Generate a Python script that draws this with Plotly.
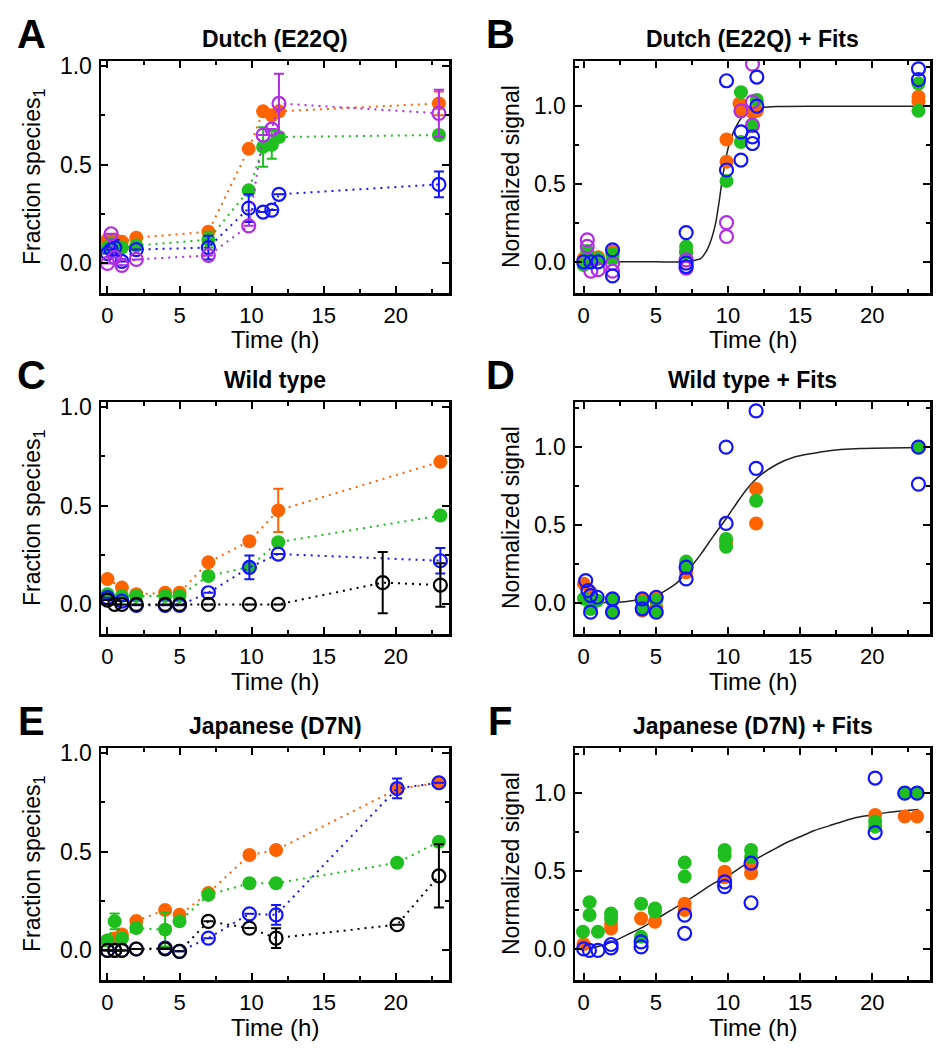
import plotly.graph_objects as go

ORANGE = '#ff6400'
GREEN = '#1fbf1f'
BLUE = '#1414ff'
PURPLE = '#b02ee6'
BLACK = '#000000'

# ---------------- Panel A: Dutch (E22Q) ----------------
tA = [0, 0.25, 0.5, 1, 2, 7, 9.8, 10.8, 11.4, 11.9, 23]
A_orange = [0.12, 0.11, 0.12, 0.11, 0.13, 0.16, 0.58, 0.77, 0.75, 0.77, 0.81]
A_orange_err = [None, None, None, None, None, None, None, None, None, None, 0.06]
A_green = [0.08, 0.09, 0.09, 0.08, 0.09, 0.12, 0.37, 0.59, 0.60, 0.64, 0.65]
A_green_err = [None, 0.04, None, None, None, 0.04, None, 0.10, 0.07, None, None]
A_blue = [0.05, 0.07, 0.08, 0.01, 0.07, 0.08, 0.28, 0.26, 0.27, 0.35, 0.40]
A_blue_err = [None, None, 0.04, None, None, 0.06, 0.07, None, None, None, 0.065]
A_purple = [0.00, 0.15, 0.03, -0.01, 0.02, 0.04, 0.19, 0.65, 0.68, 0.81, 0.76]
A_purple_err = [None, None, None, None, None, None, None, None, None, 0.15, 0.12]

# ---------------- Panel B: Dutch (E22Q) + Fits ----------------
B_orange_t = [0, 0.25, 0.5, 1, 2, 2, 7.1, 9.9, 9.9, 10.8, 10.9, 12.0, 11.7, 23.2, 23.2]
B_orange_y = [0.02, 0.03, 0.0, 0.03, 0.067, 0.04, 0.067, 0.786, 0.643, 1.017, 0.97, 0.97, 0.96, 1.06, 1.03]
B_green_t = [0, 0.25, 0.5, 1, 2, 2, 7.1, 7.1, 9.9, 10.9, 10.9, 12.0, 11.7, 23.2, 23.2]
B_green_y = [-0.02, 0.07, 0.0, 0.02, 0.02, 0.05, 0.098, 0.06, 0.52, 1.09, 0.77, 1.04, 0.87, 1.145, 0.97]
B_blue_t = [0, 0.5, 1, 2, 2, 7.1, 7.1, 7.1, 9.9, 9.9, 10.9, 10.9, 11.7, 11.7, 12.0, 12.0, 23.2, 23.2]
B_blue_y = [0.0, 0.0, 0.0, 0.077, -0.09, 0.188, -0.008, -0.03, 1.163, 0.59, 0.835, 0.654, 0.803, 0.76, 1.187, 1.0, 1.24, 1.17]
B_purple_t = [0.25, 0.25, 0.5, 1, 2, 2, 7.1, 7.1, 9.9, 9.9, 10.9, 11.7, 11.7, 11.7]
B_purple_y = [0.141, 0.10, -0.06, -0.05, -0.06, -0.01, 0.013, -0.04, 0.252, 0.163, 0.97, 1.27, 1.028, 0.878]
B_fit_t = [-0.6, 5.0, 7.0, 7.6, 8.1, 8.55, 8.9, 9.15, 9.37, 9.6, 9.83, 10.17, 10.5, 10.98, 11.56, 12.25, 13.4, 16.0, 24.0]
B_fit_y = [0.0, 0.0, 0.0, 0.008, 0.02, 0.077, 0.16, 0.25, 0.376, 0.526, 0.654, 0.782, 0.857, 0.93, 0.97, 0.99, 0.998, 1.0, 1.0]

# ---------------- Panel C: Wild type ----------------
tC = [0, 1, 2, 4, 5, 7, 9.85, 11.85, 23.1]
C_orange = [0.128, 0.085, 0.051, 0.059, 0.059, 0.213, 0.32, 0.476, 0.722]
C_orange_err = [None, None, None, None, None, None, None, 0.11, None]
C_green = [0.051, 0.043, 0.043, 0.043, 0.043, 0.144, 0.19, 0.315, 0.45]
C_blue = [0.034, 0.017, -0.005, -0.005, -0.005, 0.059, 0.187, 0.255, 0.221]
C_blue_err = [None, None, None, None, None, None, 0.06, None, 0.065]
tC_black = [0, 0.5, 1, 2, 4, 5, 7, 9.85, 11.85, 19.1, 23.1]
C_black = [0.022, 0.0, 0.0, 0.0, 0.0, 0.0, 0.0, 0.0, 0.0, 0.11, 0.098]
C_black_err = [None, None, None, None, None, None, None, None, None, 0.155, 0.11]

# ---------------- Panel D: Wild type + Fits ----------------
D_orange_t = [0.02, 0.48, 2.0, 2.0, 4.06, 4.06, 5.03, 5.03, 7.1, 9.87, 11.95, 11.95, 23.2]
D_orange_y = [0.122, 0.068, -0.06, 0.026, -0.05, 0.02, 0.036, -0.03, 0.197, 0.389, 0.731, 0.51, 1.0]
D_green_t = [0.02, 0.48, 0.94, 2.0, 2.0, 4.06, 4.06, 5.03, 5.03, 7.1, 7.1, 9.87, 9.87, 11.95, 23.2]
D_green_y = [0.027, -0.04, 0.015, 0.015, -0.05, 0.004, -0.04, 0.015, -0.05, 0.265, 0.24, 0.41, 0.36, 0.656, 1.0]
D_blue_t = [0.14, 0.3, 0.48, 0.48, 0.94, 2.0, 2.0, 4.06, 4.06, 5.03, 5.03, 7.1, 7.1, 9.87, 9.87, 11.95, 11.95, 23.2, 23.2]
D_blue_y = [0.143, 0.079, 0.047, -0.06, 0.036, 0.026, -0.06, 0.026, -0.038, 0.036, -0.06, 0.229, 0.154, 1.0, 0.51, 1.233, 0.864, 1.0, 0.763]
D_fit_t = [-0.2, 3.0, 5.1, 6.48, 7.06, 8.1, 9.0, 9.87, 10.6, 11.3, 12.25, 13.4, 14.56, 16.9, 19.2, 23.2]
D_fit_y = [0.0, 0.009, 0.05, 0.13, 0.19, 0.31, 0.43, 0.54, 0.64, 0.73, 0.82, 0.89, 0.935, 0.976, 0.991, 0.998]

# ---------------- Panel E: Japanese (D7N) ----------------
tE = [0, 0.5, 1, 2, 4, 5, 7, 9.85, 11.7, 20.1, 23]
E_orange = [0.05, 0.06, 0.08, 0.149, 0.205, 0.18, 0.29, 0.483, 0.508, 0.817, 0.849]
E_green = [0.05, 0.147, 0.06, 0.113, 0.105, 0.147, 0.281, 0.34, 0.34, 0.444, 0.55]
E_green_err = [None, 0.04, None, None, 0.085, None, None, None, None, None, None]
E_blue = [0.0, 0.0, 0.0, 0.007, 0.012, -0.005, 0.062, 0.185, 0.18, 0.82, 0.849]
E_blue_err = [None, None, None, None, None, None, None, None, 0.05, 0.05, None]
E_black = [0.0, 0.0, 0.0, 0.007, 0.007, -0.005, 0.147, 0.113, 0.062, 0.13, 0.377]
E_black_err = [None, None, None, None, None, None, None, None, 0.05, None, 0.16]

# ---------------- Panel F: Japanese (D7N) + Fits ----------------
F_orange_t = [0.0, 1.9, 1.9, 3.98, 4.94, 7.0, 7.0, 9.77, 9.77, 11.6, 11.6, 20.2, 22.25, 23.1]
F_orange_y = [0.03, 0.13, 0.16, 0.195, 0.174, 0.29, 0.25, 0.496, 0.46, 0.528, 0.485, 0.86, 0.85, 0.85]
F_green_t = [-0.05, 0.41, 0.41, 0.99, 1.9, 1.9, 3.98, 3.98, 4.94, 4.94, 7.0, 7.0, 9.77, 9.77, 11.6, 11.6, 20.2, 20.2, 22.25, 23.1]
F_green_y = [0.11, 0.30, 0.217, 0.11, 0.227, 0.195, 0.29, 0.077, 0.26, 0.24, 0.554, 0.464, 0.635, 0.60, 0.635, 0.59, 0.818, 0.785, 1.0, 1.0]
F_blue_t = [0.0, 0.4, 0.99, 1.9, 1.9, 3.98, 3.98, 7.0, 7.0, 9.77, 9.77, 11.6, 11.6, 20.2, 20.2, 22.25, 23.1]
F_blue_y = [0.0, -0.01, -0.01, 0.028, 0.006, 0.045, 0.013, 0.217, 0.1, 0.43, 0.40, 0.55, 0.296, 1.097, 0.747, 1.0, 1.0]
F_fit_t = [-0.3, 0.5, 1, 2, 3, 4, 5, 6, 7, 8, 9, 10, 11, 12, 13, 14, 15, 16, 17, 18, 19, 20, 21, 22, 23.2]
F_fit_y = [0.0, 0.005, 0.015, 0.045, 0.09, 0.135, 0.19, 0.245, 0.30, 0.36, 0.42, 0.47, 0.53, 0.58, 0.63, 0.68, 0.72, 0.76, 0.79, 0.82, 0.845, 0.86, 0.875, 0.885, 0.895]

TITLES = ['Dutch (E22Q)', 'Dutch (E22Q) + Fits', 'Wild type', 'Wild type + Fits',
          'Japanese (D7N)', 'Japanese (D7N) + Fits']
LETTERS = ['A', 'B', 'C', 'D', 'E', 'F']
YLABELS = ['Fraction species<sub>1</sub>', 'Normalized signal']
XLABEL = 'Time (h)'

FONT = 'Liberation Sans, Arial, sans-serif'
W, H = 948, 1050
COLS = [(101, 449), (575, 930)]
ROWS = [(61, 293), (402, 634), (748, 980)]
XR = [[-0.45, 23.7], [-0.6, 24.0]]
YR = [[-0.15, 1.025], [-0.2, 1.29]]

fig = go.Figure()


def add(ax, t, y, color, filled, err=None, line=True):
    if filled:
        marker = dict(symbol='circle', size=14, color=color, line=dict(width=0))
    else:
        marker = dict(symbol='circle-open', size=13, color=color, line=dict(width=2.2, color=color))
    kw = {}
    if err is not None:
        kw['error_y'] = dict(type='data', array=err, visible=True, color=color,
                             thickness=2, width=5)
    fig.add_trace(go.Scatter(
        x=t, y=y, mode='lines+markers' if line else 'markers',
        line=dict(color=color, width=2, dash='2px,5px'),
        marker=marker, xaxis='x' + ax, yaxis='y' + ax, showlegend=False, **kw))


def fit(ax, t, y):
    fig.add_trace(go.Scatter(x=t, y=y, mode='lines',
                             line=dict(color='#222222', width=1.5, shape='spline', smoothing=0.6),
                             xaxis='x' + ax, yaxis='y' + ax, showlegend=False))


# A
add('', tA, A_orange, ORANGE, True, A_orange_err)
add('', tA, A_green, GREEN, True, A_green_err)
add('', tA, A_blue, BLUE, False, A_blue_err)
add('', tA, A_purple, PURPLE, False, A_purple_err)
# B
fit('2', B_fit_t, B_fit_y)
add('2', B_orange_t, B_orange_y, ORANGE, True, line=False)
add('2', B_green_t, B_green_y, GREEN, True, line=False)
add('2', B_purple_t, B_purple_y, PURPLE, False, line=False)
add('2', B_blue_t, B_blue_y, BLUE, False, line=False)
# C
add('3', tC, C_orange, ORANGE, True, C_orange_err)
add('3', tC, C_green, GREEN, True)
add('3', tC, C_blue, BLUE, False, C_blue_err)
add('3', tC_black, C_black, BLACK, False, C_black_err)
# D
fit('4', D_fit_t, D_fit_y)
add('4', D_orange_t, D_orange_y, ORANGE, True, line=False)
add('4', D_green_t, D_green_y, GREEN, True, line=False)
add('4', D_blue_t, D_blue_y, BLUE, False, line=False)
# E
add('5', tE, E_orange, ORANGE, True)
add('5', tE, E_green, GREEN, True, E_green_err)
add('5', tE, E_blue, BLUE, False, E_blue_err)
add('5', tE, E_black, BLACK, False, E_black_err)
# F
fit('6', F_fit_t, F_fit_y)
add('6', F_orange_t, F_orange_y, ORANGE, True, line=False)
add('6', F_green_t, F_green_y, GREEN, True, line=False)
add('6', F_blue_t, F_blue_y, BLUE, False, line=False)

layout = dict(width=W, height=H, margin=dict(l=0, r=0, t=0, b=0, autoexpand=False), autosize=False,
              paper_bgcolor='white', plot_bgcolor='white',
              font=dict(family=FONT, color='black'), showlegend=False)

annotations = []
for i in range(6):
    r, c = divmod(i, 2)
    n = '' if i == 0 else str(i + 1)
    x0, x1 = COLS[c]
    y0, y1 = ROWS[r]
    common = dict(showline=True, linewidth=2.5, linecolor='black', mirror='allticks',
                  ticks='inside', ticklen=7, tickwidth=2, tickcolor='black',
                  showgrid=False, zeroline=False, automargin=False)
    layout['xaxis' + n] = dict(domain=[x0 / W, x1 / W], anchor='y' + n, range=XR[c],
                               tick0=0, dtick=5, ticklabelstandoff=1,
                               tickfont=dict(size=22, color='black', family=FONT),
                               minor=dict(ticks='inside', dtick=2.5, tick0=0, ticklen=4, tickwidth=2,
                                          tickcolor='black', showgrid=False),
                               **common)
    layout['yaxis' + n] = dict(domain=[1 - y1 / H, 1 - y0 / H], anchor='x' + n, range=YR[c],
                               tick0=0, dtick=0.5, tickformat='.1f', ticklabelstandoff=2,
                               tickfont=dict(size=23, color='black', family=FONT),
                               minor=dict(ticks='inside', dtick=0.25, tick0=0, ticklen=4, tickwidth=2,
                                          tickcolor='black', showgrid=False),
                               **common)
    cx = (x0 + x1) / 2
    annotations.append(dict(text='<b>%s</b>' % TITLES[i], x=cx / W, y=1 - (y0 - 22) / H,
                            xref='paper', yref='paper', xanchor='center', yanchor='middle',
                            showarrow=False, font=dict(size=23, family=FONT, color='black')))
    annotations.append(dict(text='<b>%s</b>' % LETTERS[i], x=(31 if c == 0 else 500) / W,
                            y=1 - (y0 - 27) / H, xref='paper', yref='paper',
                            xanchor='center', yanchor='middle', showarrow=False,
                            font=dict(size=40, family=FONT, color='black')))
    annotations.append(dict(text=XLABEL, x=cx / W, y=1 - (y1 + 47) / H,
                            xref='paper', yref='paper', xanchor='center', yanchor='middle',
                            showarrow=False, font=dict(size=24, family=FONT, color='black')))
    annotations.append(dict(text=YLABELS[c], x=(33 if c == 0 else 511) / W, y=1 - ((y0 + y1) / 2) / H,
                            xref='paper', yref='paper', xanchor='center', yanchor='middle',
                            textangle=-90, showarrow=False,
                            font=dict(size=23, family=FONT, color='black')))
layout['annotations'] = annotations
fig.update_layout(**layout)
fig.write_html('out.html', config={'displayModeBar': False, 'staticPlot': True},
               post_script="document.body.style.margin='0';document.body.style.overflow='hidden';")
